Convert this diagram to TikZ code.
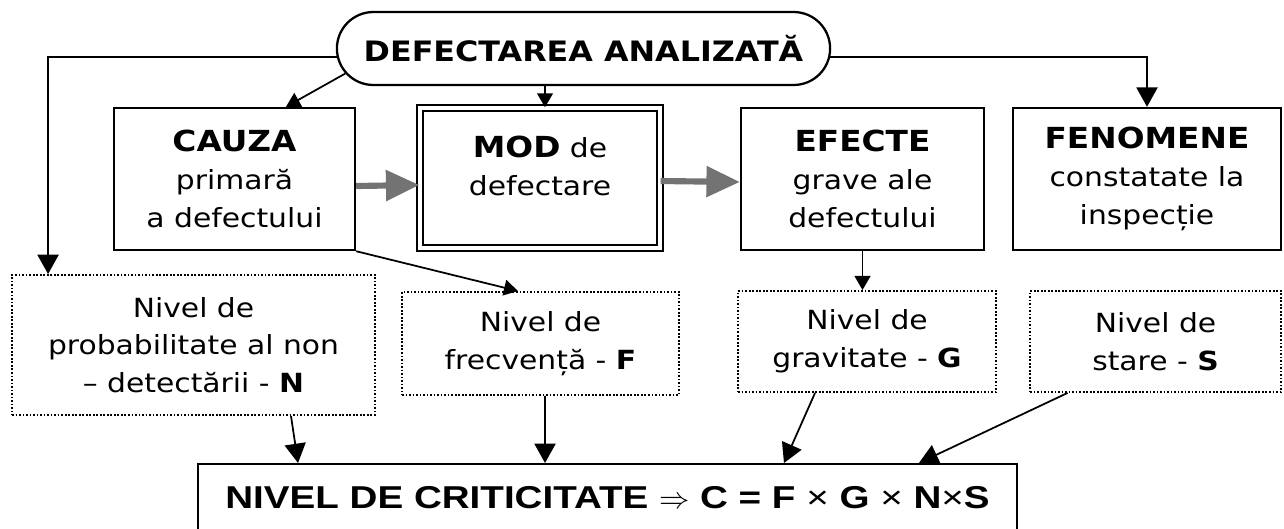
\documentclass[tikz,border=0pt]{standalone}
\usepackage{fontspec}
\setmainfont[FakeStretch=1.13]{DejaVu Sans}
\newfontfamily\critfont[FakeStretch=1.22]{Liberation Sans}
\newcommand{\hd}{\fontsize{16.5}{21.5}\selectfont\bfseries}
\usetikzlibrary{arrows.meta,shapes.misc,positioning}

\begin{document}
\begin{tikzpicture}[x=0.02cm,y=-0.02cm,
   every node/.style={align=center,font=\fontsize{15}{21.5}\selectfont},
   box/.style={draw,line width=1.4pt,minimum width=4.82cm,minimum height=2.84cm,inner sep=0pt},
   lvl/.style={draw,dash pattern=on 1pt off 1pt,line width=1.1pt,minimum height=2.02cm,inner sep=0pt},
   arr/.style={-{Triangle[length=11pt,width=12pt]},line width=1pt},
   sarr/.style={-{Triangle[length=8pt,width=9pt]},line width=1pt},
   big/.style={-{Triangle[length=19pt,width=17pt]},line width=3.5pt,black!55}]
   \path[use as bounding box,clip] (0,0) rectangle (1284,528);
   \node[rounded rectangle,draw,line width=1.3pt,minimum width=10.1cm,minimum height=1.46cm,
         font=\fontsize{16}{20}\selectfont\bfseries] (top) at (583.5,48.5) {DEFECTAREA ANALIZATĂ};
   \node[box] (cauza) at (234.5,179) {{\hd CAUZA}\\primară\\a defectului};
   \node[box,minimum width=4.8cm,minimum height=2.8cm,double,double distance=2.8pt,line width=0.8pt]
         (mod) at (540,178) {{\hd MOD} de\\defectare\\[-14pt]\strut};
   \node[box,minimum width=4.86cm] (efe) at (862.5,179) {{\hd EFECTE}\\grave ale\\defectului};
   \node[box,minimum width=5.36cm] (fen) at (1147,179) {{\hd FENOMENE}\\constatate la\\inspecție};
   \node[lvl,minimum width=7.26cm,minimum height=2.8cm] (N) at (193.5,345)
         {Nivel de\\probabilitate al non\\– detectării - \textbf{N}};
   \node[lvl,minimum width=5.54cm,minimum height=2.06cm] (F) at (540.5,343.5) {Nivel de\\frecvență - \textbf{F}};
   \node[lvl,minimum width=5.16cm] (G) at (867,341.5) {Nivel de\\gravitate - \textbf{G}};
   \node[lvl,minimum width=5.02cm] (S) at (1155.5,341.5) {Nivel de\\stare - \textbf{S}};
   \node[draw,line width=1.4pt,anchor=north,minimum width=16.38cm,inner ysep=12pt,
         text height=13pt,text depth=40pt,font=\critfont\fontsize{18}{20}\selectfont\bfseries]
         (crit) at (607.5,463) {NIVEL DE CRITICITATE $\Rightarrow$ C = F {\mdseries ×} G {\mdseries ×} N{\mdseries ×}S};
   \coordinate (m) at ([xshift=0.1cm]mod.north);
   \draw[arr] (top.182) -| ([xshift=0.74cm]N.north west);
   \draw[arr] (top.358) -| (fen.north);
   \draw[sarr] (top.186.6) -- ([xshift=1.03cm]cauza.north);
   \draw[sarr] (top.south -| m) -- (m);
   \draw[big] ([yshift=-0.14cm]cauza.east) -- ([yshift=-0.14cm]mod.west);
   \draw[big] ([yshift=-0.06cm]mod.east) -- ([yshift=-0.06cm]efe.west);
   \draw[sarr] (cauza.south east) -- ([xshift=-0.45cm]F.north);
   \draw[sarr] (efe.south) -- (efe.south |- G.north);
   \draw[arr] ([xshift=1.95cm]N.south) -- ([xshift=-6.19cm]crit.north);
   \draw[arr] ([xshift=0.09cm]F.south) -- ([xshift=-1.25cm]crit.north);
   \draw[arr] ([xshift=-1.04cm]G.south) -- ([xshift=3.53cm]crit.north);
   \draw[arr] ([xshift=-1.76cm]S.south) -- ([xshift=6.23cm]crit.north);
\end{tikzpicture}
\end{document}
